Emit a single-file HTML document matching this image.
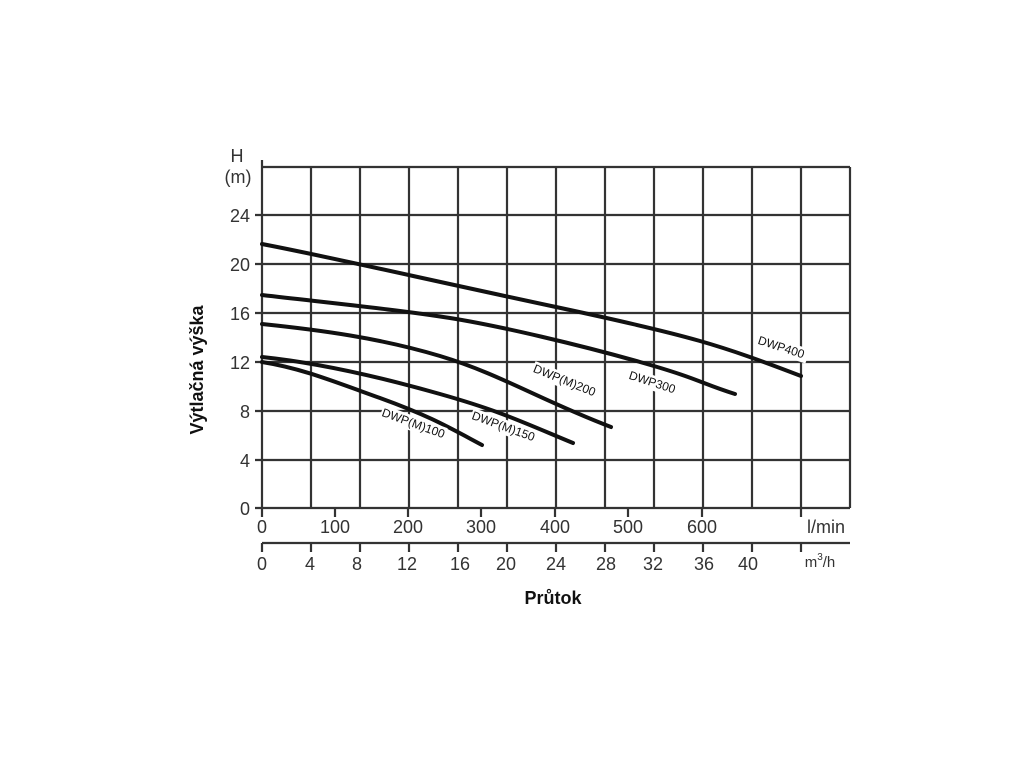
<!DOCTYPE html>
<html><head><style>body{margin:0;background:#fff}svg{display:block}</style></head><body>
<svg width="1024" height="768" viewBox="0 0 1024 768" xmlns="http://www.w3.org/2000/svg" font-family="Liberation Sans, sans-serif">
<g stroke="#333" stroke-width="2.2" fill="none">
<path d="M262 167H850M262 215H850M262 264H850M262 313H850M262 362H850M262 411H850M262 460H850M262 508H850"/>
<path d="M262 160V508M311 167V508M360 167V508M409 167V508M458 167V508M507 167V508M556 167V508M605 167V508M654 167V508M703 167V508M752 167V508M801 167V508M850 167V508"/>
<path d="M255 215H262M255 264H262M255 313H262M255 362H262M255 411H262M255 460H262M255 508H262"/>
<path d="M262 508V517M335 508V517M408 508V517M481 508V517M555 508V517M628 508V517M702 508V517M801 508V517"/>
<path d="M262 543H850M262 543V552M311 543V552M360 543V552M409 543V552M458 543V552M507 543V552M556 543V552M605 543V552M654 543V552M703 543V552M752 543V552M801 543V552"/>
</g>
<g stroke="#111" stroke-width="4" fill="none" stroke-linecap="round">
<path d="M262 244C330 257 420 278 556 307S720 345 801 376"/>
<path d="M262 295C340 304 400 310 450 318S580 345 640 362S700 383 735 394"/>
<path d="M262 324C320 330 380 338 440 356S540 400 611 427"/>
<path d="M262 357C320 363 380 377 440 394S520 421 573 443"/>
<path d="M262 362C300 368 330 380 380 398S450 428 482 445"/>
</g>
<g font-size="12" fill="#111">
<g transform="translate(780 351) rotate(18)"><rect x="-26" y="-11" width="54" height="15" fill="#fff"/><text text-anchor="middle">DWP400</text></g>
<g transform="translate(651 386) rotate(18)"><rect x="-26" y="-11" width="54" height="15" fill="#fff"/><text text-anchor="middle">DWP300</text></g>
<g transform="translate(563 384) rotate(22)"><rect x="-34" y="-11" width="68" height="15" fill="#fff"/><text text-anchor="middle">DWP(M)200</text></g>
<g transform="translate(502 430) rotate(20)"><rect x="-34" y="-11" width="68" height="15" fill="#fff"/><text text-anchor="middle">DWP(M)150</text></g>
<g transform="translate(412 427) rotate(20)"><rect x="-34" y="-11" width="68" height="15" fill="#fff"/><text text-anchor="middle">DWP(M)100</text></g>
</g>
<g font-size="18" fill="#333" text-anchor="end">
<text x="237" y="162" text-anchor="middle">H</text>
<text x="238" y="183" text-anchor="middle">(m)</text>
<text x="250" y="222">24</text><text x="250" y="271">20</text><text x="250" y="320">16</text><text x="250" y="369">12</text><text x="250" y="418">8</text><text x="250" y="467">4</text><text x="250" y="515">0</text>
</g>
<g font-size="18" fill="#333" text-anchor="middle">
<text x="262" y="533">0</text><text x="335" y="533">100</text><text x="408" y="533">200</text><text x="481" y="533">300</text><text x="555" y="533">400</text><text x="628" y="533">500</text><text x="702" y="533">600</text><text x="826" y="533">l/min</text>
<text x="262" y="570">0</text><text x="310" y="570">4</text><text x="357" y="570">8</text><text x="407" y="570">12</text><text x="460" y="570">16</text><text x="506" y="570">20</text><text x="556" y="570">24</text><text x="606" y="570">28</text><text x="653" y="570">32</text><text x="704" y="570">36</text><text x="748" y="570">40</text>
<text x="820" y="567" font-size="15">m<tspan font-size="10" dy="-7">3</tspan><tspan dy="7">/h</tspan></text>
</g>
<text x="553" y="604" font-size="18" font-weight="bold" text-anchor="middle" fill="#111">Průtok</text>
<text transform="translate(203 370) rotate(-90)" font-size="18" font-weight="bold" text-anchor="middle" fill="#111">Výtlačná výška</text>
</svg>
</body></html>
